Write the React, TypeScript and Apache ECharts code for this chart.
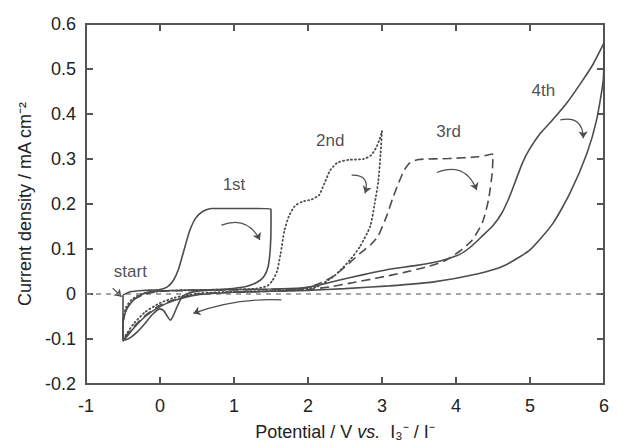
import React, { useEffect, useRef } from "react";
import * as echarts from "echarts";

const xTicks = { min: -1, max: 6, interval: 1 };
const yTicks = { min: -0.2, max: 0.6, interval: 0.1 };
const xTickValues = [-1, 0, 1, 2, 3, 4, 5, 6];
const yTickValues = [-0.2, -0.1, 0, 0.1, 0.2, 0.3, 0.4, 0.5, 0.6];

const cycle1: number[][] = [
  [-0.5, -0.002], [-0.4, 0.005], [-0.2, 0.008], [0, 0.01], [0.1, 0.016], [0.18, 0.03], [0.25, 0.055],
  [0.32, 0.095], [0.4, 0.14], [0.48, 0.168], [0.58, 0.184], [0.7, 0.19], [1.0, 0.19], [1.3, 0.19], [1.5, 0.189],
  [1.5, 0.15], [1.49, 0.1], [1.46, 0.06], [1.4, 0.038], [1.3, 0.025], [1.15, 0.016], [0.9, 0.011], [0.6, 0.008],
  [0.4, 0.003], [0.3, -0.006], [0.24, -0.025], [0.18, -0.048], [0.14, -0.058], [0.1, -0.05], [0.05, -0.037],
  [0, -0.033], [-0.1, -0.045], [-0.2, -0.065], [-0.3, -0.083], [-0.4, -0.097], [-0.47, -0.102], [-0.5, -0.095],
  [-0.5, -0.05], [-0.5, -0.002],
];

const cycle2: number[][] = [
  [-0.5, -0.1], [-0.5, -0.06], [-0.46, -0.03], [-0.38, -0.012], [-0.25, 0.0], [0, 0.006], [0.5, 0.009],
  [1.0, 0.01], [1.3, 0.012], [1.45, 0.018], [1.52, 0.03], [1.58, 0.05], [1.63, 0.09], [1.68, 0.14], [1.74, 0.172],
  [1.82, 0.195], [1.92, 0.205], [2.05, 0.21], [2.15, 0.22], [2.22, 0.245], [2.3, 0.275], [2.4, 0.292],
  [2.55, 0.298], [2.75, 0.3], [2.85, 0.308], [2.92, 0.325], [2.97, 0.345], [3.0, 0.362],
  [2.98, 0.31], [2.95, 0.25], [2.9, 0.2], [2.84, 0.15], [2.7, 0.105], [2.57, 0.076], [2.45, 0.055],
  [2.34, 0.038], [2.12, 0.016], [1.9, 0.01], [1.4, 0.006], [0.8, 0.004], [0.5, 0.001], [0.2, -0.008],
  [0, -0.02], [-0.2, -0.04], [-0.35, -0.065], [-0.45, -0.088], [-0.5, -0.1],
];

const cycle3: number[][] = [
  [-0.5, -0.1], [-0.5, -0.065], [-0.45, -0.033], [-0.36, -0.013], [-0.2, 0.0], [0, 0.006], [0.5, 0.008],
  [1.0, 0.009], [1.5, 0.01], [1.9, 0.012], [2.1, 0.02], [2.3, 0.035], [2.5, 0.06], [2.7, 0.09], [2.85, 0.11],
  [2.95, 0.13], [3.06, 0.172], [3.15, 0.215], [3.22, 0.245], [3.3, 0.275], [3.38, 0.292], [3.5, 0.299],
  [3.9, 0.301], [4.3, 0.305], [4.5, 0.311],
  [4.49, 0.27], [4.44, 0.21], [4.36, 0.16], [4.22, 0.12], [4.05, 0.095], [3.85, 0.074], [3.6, 0.06],
  [3.3, 0.048], [2.95, 0.036], [2.6, 0.025], [2.3, 0.016], [2.0, 0.01], [1.5, 0.006], [1.0, 0.004],
  [0.5, 0.0], [0.2, -0.012], [0, -0.025], [-0.2, -0.048], [-0.35, -0.072], [-0.45, -0.092], [-0.5, -0.1],
];

const cycle4: number[][] = [
  [-0.5, -0.105], [-0.5, -0.065], [-0.45, -0.033], [-0.35, -0.012], [-0.2, 0.002], [0, 0.007], [0.5, 0.009],
  [1.0, 0.01], [1.5, 0.011], [1.9, 0.013], [2.1, 0.018], [2.4, 0.03], [2.75, 0.043], [3.1, 0.055],
  [3.45, 0.063], [3.8, 0.074], [4.05, 0.088], [4.2, 0.105], [4.35, 0.128], [4.5, 0.152], [4.62, 0.18],
  [4.72, 0.215], [4.82, 0.258], [4.9, 0.292], [4.98, 0.318], [5.14, 0.357], [5.3, 0.386], [5.5, 0.425],
  [5.7, 0.472], [5.85, 0.51], [6.0, 0.558],
  [5.99, 0.476], [5.9, 0.387], [5.77, 0.313], [5.54, 0.224], [5.31, 0.157], [5.0, 0.098], [4.64, 0.062],
  [4.3, 0.045], [3.7, 0.027], [3.1, 0.018], [2.5, 0.012], [2.0, 0.008], [1.5, 0.006], [1.0, 0.004],
  [0.5, -0.002], [0.2, -0.014], [0, -0.028], [-0.2, -0.05], [-0.35, -0.075], [-0.45, -0.095], [-0.5, -0.105],
];

const zeroLine: number[][] = [[-1, 0], [6, 0]];

const labelTexts = ["start", "1st", "2nd", "3rd", "4th"];
const labelX = [-0.4, 1.0, 2.3, 3.9, 5.18];
const labelY = [0.05, 0.244, 0.342, 0.362, 0.453];

const arrowStart: number[][] = [[0.83, 0.153], [2.59, 0.264], [3.74, 0.27], [5.41, 0.387], [1.64, -0.013], [-0.64, 0.013]];
const arrowEnd: number[][] = [[1.35, 0.12], [2.77, 0.224], [4.28, 0.231], [5.72, 0.346], [0.45, -0.043], [-0.52, -0.006]];
const arrowCurve = [0.45, 0.7, 0.5, 0.6, -0.1, 0];

const FONT = "Liberation Sans, Arial, sans-serif";
const LINE = "#4d4d4d";
const AXIS = "#555";
const TICK_LEN = 7;

export default function App() {
  const ref = useRef<HTMLDivElement>(null);
  useEffect(() => {
    if (!ref.current) return;
    const chart = echarts.init(ref.current, null, { renderer: "svg" });
    chart.setOption({
      animation: false,
      backgroundColor: "#fff",
      grid: { left: 86, right: 14, top: 24, bottom: 64, show: true, borderColor: AXIS, borderWidth: 2, backgroundColor: "transparent" },
      xAxis: {
        type: "value", ...xTicks, position: "bottom",
        axisLine: { show: true, onZero: false, lineStyle: { color: AXIS, width: 2 } },
        axisTick: { show: false },
        splitLine: { show: false },
        axisLabel: { color: "#222", fontSize: 18, fontFamily: FONT, margin: 13 },
        name: "Potential / V {i|vs.}  I₃⁻ / I⁻",
        nameLocation: "middle", nameGap: 39,
        nameTextStyle: {
          color: "#222", fontSize: 18, fontFamily: FONT,
          rich: { i: { fontStyle: "italic", fontSize: 18, fontFamily: FONT, color: "#222" } },
        },
      },
      yAxis: {
        type: "value", ...yTicks, position: "left",
        axisLine: { show: true, onZero: false, lineStyle: { color: AXIS, width: 2 } },
        axisTick: { show: false },
        splitLine: { show: false },
        axisLabel: { color: "#222", fontSize: 18, fontFamily: FONT, margin: 10, formatter: (v: number) => String(Math.round(v * 10) / 10) },
        name: "Current density / mA cm⁻²",
        nameLocation: "middle", nameGap: 50,
        nameTextStyle: { color: "#222", fontSize: 18, fontFamily: FONT },
      },
      series: [
        {
          type: "line", data: zeroLine, symbol: "none", silent: true,
          lineStyle: { color: "#888", width: 1.5, type: [5, 5] },
        },
        { type: "line", data: cycle1, symbol: "none", smooth: 0.2, lineStyle: { color: LINE, width: 1.6 } },
        { type: "line", data: cycle2, symbol: "none", smooth: 0.2, lineStyle: { color: LINE, width: 1.8, type: [1, 3], cap: "round" } },
        { type: "line", data: cycle3, symbol: "none", smooth: 0.2, lineStyle: { color: LINE, width: 1.6, type: [9, 5] } },
        { type: "line", data: cycle4, symbol: "none", smooth: 0.2, lineStyle: { color: LINE, width: 1.6 } },
        {
          type: "lines", coordinateSystem: "cartesian2d", polyline: false,
          symbol: ["none", "arrow"], symbolSize: 7,
          data: arrowStart.map((s, i) => ({ coords: [s, arrowEnd[i]], lineStyle: { curveness: arrowCurve[i] } })),
          lineStyle: { color: LINE, width: 1.2, opacity: 1 },
        },
        {
          type: "scatter", symbolSize: 0,
          data: labelTexts.map((t, i) => ({ name: t, value: [labelX[i], labelY[i]] })),
          label: { show: true, position: "inside", formatter: (p: any) => p.name, color: "#222", fontSize: 17, fontFamily: FONT },
        },
        {
          type: "custom", silent: true, clip: false,
          data: xTickValues.map((v) => [v, 0]),
          renderItem: (_p: any, api: any) => {
            const v = api.value(0);
            const b = api.coord([v, yTicks.min]);
            const t = api.coord([v, yTicks.max]);
            const style = { stroke: AXIS, lineWidth: 2 };
            return {
              type: "group",
              children: [
                { type: "line", shape: { x1: b[0], y1: b[1], x2: b[0], y2: b[1] - TICK_LEN }, style },
                { type: "line", shape: { x1: t[0], y1: t[1], x2: t[0], y2: t[1] + TICK_LEN }, style },
              ],
            };
          },
        },
        {
          type: "custom", silent: true, clip: false,
          data: yTickValues.map((v) => [0, v]),
          renderItem: (_p: any, api: any) => {
            const v = api.value(1);
            const l = api.coord([xTicks.min, v]);
            const r = api.coord([xTicks.max, v]);
            const style = { stroke: AXIS, lineWidth: 2 };
            return {
              type: "group",
              children: [
                { type: "line", shape: { x1: l[0], y1: l[1], x2: l[0] + TICK_LEN, y2: l[1] }, style },
                { type: "line", shape: { x1: r[0], y1: r[1], x2: r[0] - TICK_LEN, y2: r[1] }, style },
              ],
            };
          },
        },
      ],
    });
    return () => chart.dispose();
  }, []);
  return <div ref={ref} style={{ width: 618, height: 448, position: "absolute", left: 0, top: 0 }} />;
}
